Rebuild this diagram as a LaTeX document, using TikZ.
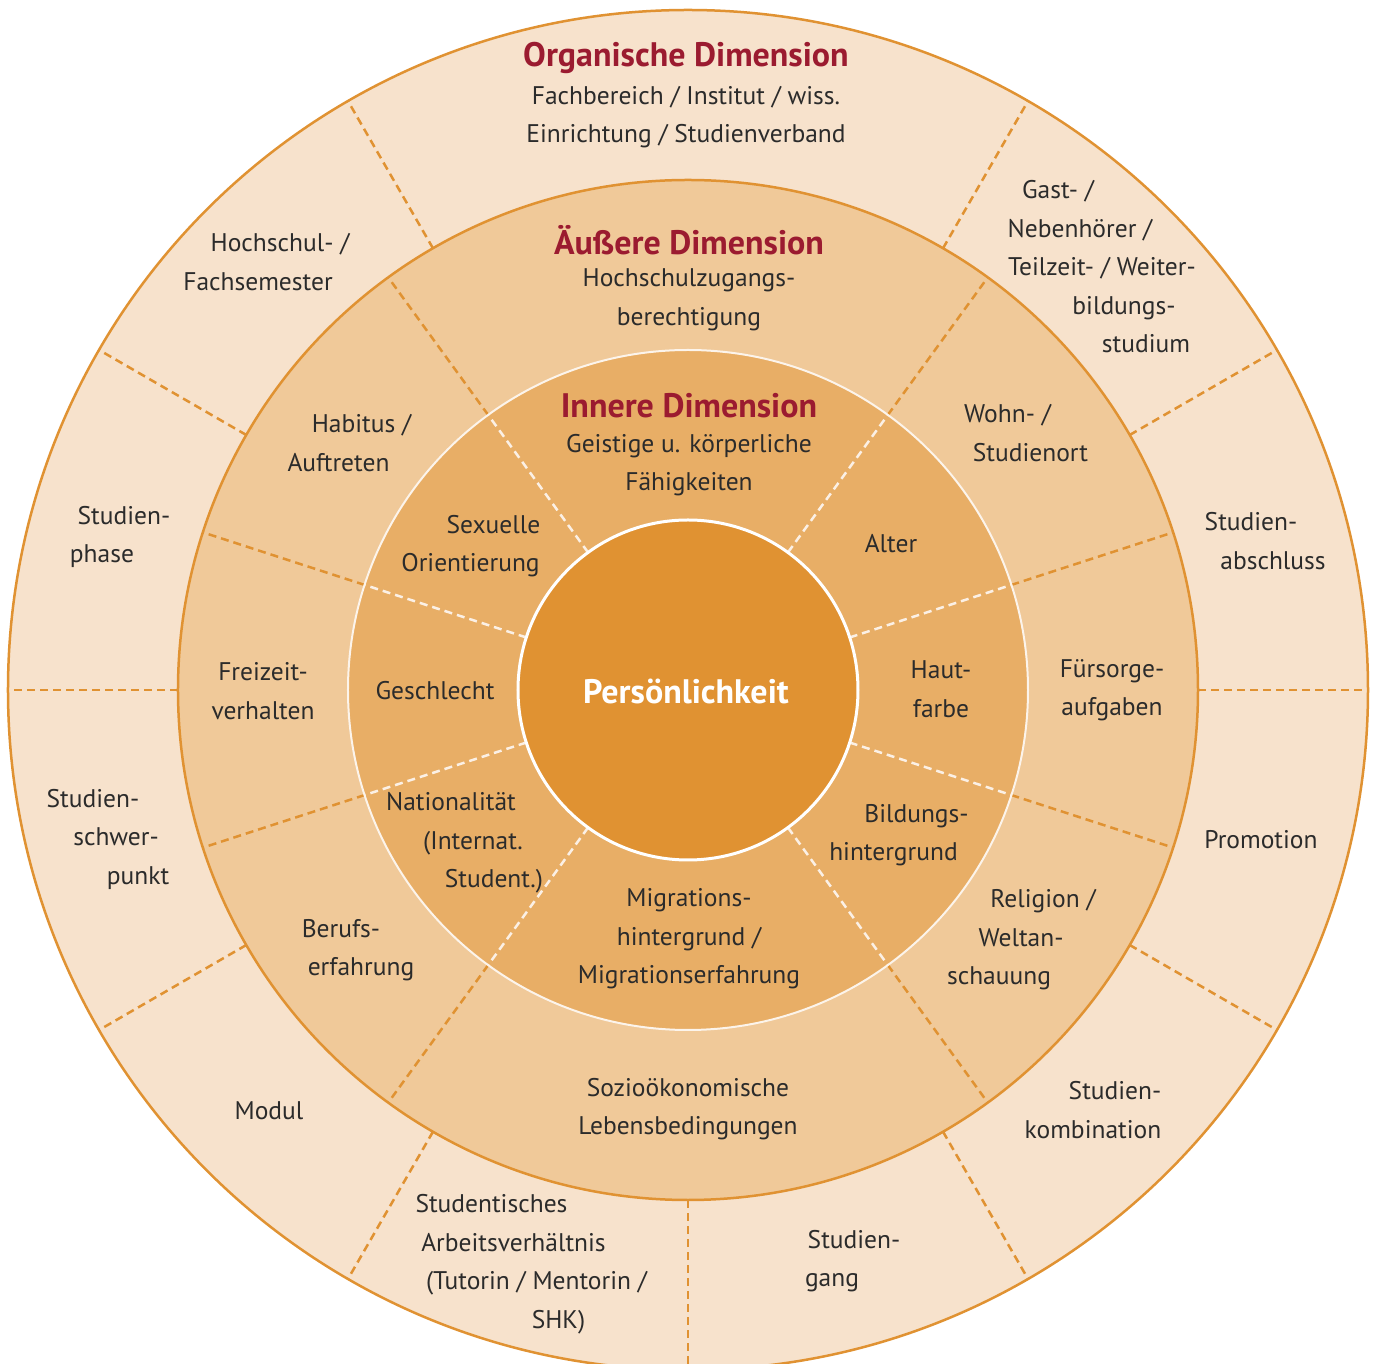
\documentclass[tikz,border=0pt]{standalone}
\usepackage{fontspec}
\setmainfont{PT Sans}
\definecolor{ringout}{HTML}{F7E2CC}
\definecolor{ringmid}{HTML}{F0C999}
\definecolor{ringin}{HTML}{E8AE66}
\definecolor{kernfarbe}{HTML}{E09232}
\definecolor{linie}{HTML}{E09232}
\definecolor{titel}{HTML}{9B1B30}
\definecolor{schrift}{HTML}{2B2B2B}
\newcommand{\sh}[1]{\hspace*{#1pt}}
\begin{document}
\begin{tikzpicture}[x=1pt,y=1pt,line join=round,
    txt/.style={align=center,text=schrift,font=\fontsize{25.5}{38.5}\selectfont},
    ttl/.style={text=titel,font=\fontsize{34}{38.5}\selectfont\bfseries},
    trenn/.style={dash pattern=on 8pt off 5pt,line width=2.5pt}]
    \useasboundingbox (-688,690) rectangle (688,-674);
    % ringe
    \fill[ringout] (0,0) circle (680);
    \fill[ringmid] (0,0) circle (510);
    \fill[ringin] (0,0) circle (340);
    \fill[kernfarbe] (0,0) circle (170);
    % trennlinien
    \foreach \w in {0,30,60,120,150,180,210,240,270,300,330}
        \draw[trenn,linie] (\w:510) -- (\w:680);
    \foreach \w in {18,54,126,162,198,234,306,342}{
        \draw[trenn,linie] (\w:340) -- (\w:510);
        \draw[trenn,ringout!50!white] (\w:170) -- (\w:340);}
    \draw[linie,line width=2.5pt] (0,0) circle (680) (0,0) circle (510);
    \draw[ringout!40!white,line width=2pt] (0,0) circle (340);
    \draw[white,line width=3pt] (0,0) circle (170);
    % mitte
    \node[white,font=\fontsize{34}{38.5}\selectfont\bfseries] (persoenlichkeit) at (-2,-1) {Persönlichkeit};
    % innere dimension
    \node[ttl] (innere) at (1,284) {Innere Dimension};
    \node[txt] (geistig) at (1,225) {Geistige u. körperliche\\Fähigkeiten};
    \node[txt] (alter) at (203,146) {Alter};
    \node[txt] (hautfarbe) at (253,1) {Haut-\\farbe};
    \node[txt] (bildung) at (217,-145) {\sh{23}Bildungs-\\\sh{-23}hintergrund};
    \node[txt] (migration) at (1,-249) {Migrations-\\hintergrund /\\Migrationserfahrung};
    \node[txt] (nation) at (-215,-153) {\sh{-44}Nationalität\\(Internat.\\\sh{42}Student.)};
    \node[txt] (geschlecht) at (-253,-1) {Geschlecht};
    \node[txt] (sexuell) at (-206,144) {\sh{23}Sexuelle\\\sh{-23}Orientierung};
    % aeussere dimension
    \node[ttl] (aeussere) at (1,450) {Äußere Dimension};
    \node[txt] (zugang) at (1,390) {Hochschulzugangs-\\berechtigung};
    \node[txt] (wohnort) at (331,257) {\sh{-23}Wohn- /\\\sh{23}Studienort};
    \node[txt] (fuersorge) at (424,0) {Fürsorge-\\aufgaben};
    \node[txt] (religion) at (333,-250) {\sh{44}Religion /\\Weltan-\\\sh{-44}schauung};
    \node[txt] (sozio) at (0,-419) {Sozioökonomische\\Lebensbedingungen};
    \node[txt] (beruf) at (-337,-260) {\sh{-20}Berufs-\\\sh{20}erfahrung};
    \node[txt] (freizeit) at (-425,-1) {Freizeit-\\verhalten};
    \node[txt] (habitus) at (-338,247) {\sh{23}Habitus /\\\sh{-23}Auftreten};
    % organische dimension
    \node[ttl] (organisch) at (-2,632) {Organische Dimension};
    \node[txt] (fachbereich) at (-2,573) {Fachbereich / Institut / wiss.\\Einrichtung / Studienverband};
    \node[txt] (gast) at (414,423) {\sh{-88}Gast- /\\\sh{-44}Nebenhörer /\\Teilzeit- / Weiter-\\\sh{44}bildungs-\\\sh{88}studium};
    \node[txt] (abschluss) at (574,149) {\sh{-22}Studien-\\\sh{22}abschluss};
    \node[txt] (promotion) at (573,-150) {Promotion};
    \node[txt] (kombination) at (416,-420) {\sh{22}Studien-\\\sh{-22}kombination};
    \node[txt] (studiengang) at (155,-571) {\sh{22}Studien-\\\sh{-22}gang};
    \node[txt] (arbeit) at (-163,-574) {\sh{-67}Studentisches\\\sh{-23}Arbeitsverhältnis\\\sh{23}(Tutorin / Mentorin /\\\sh{67}SHK)};
    \node[txt] (modul) at (-419,-421) {Modul};
    \node[txt] (schwerpunkt) at (-572,-149) {\sh{-46}Studien-\\schwer-\\\sh{44}punkt};
    \node[txt] (phase) at (-575,153) {\sh{22}Studien-\\\sh{-22}phase};
    \node[txt] (semester) at (-419,428) {\sh{22}Hochschul- /\\\sh{-22}Fachsemester};
\end{tikzpicture}
\end{document}
